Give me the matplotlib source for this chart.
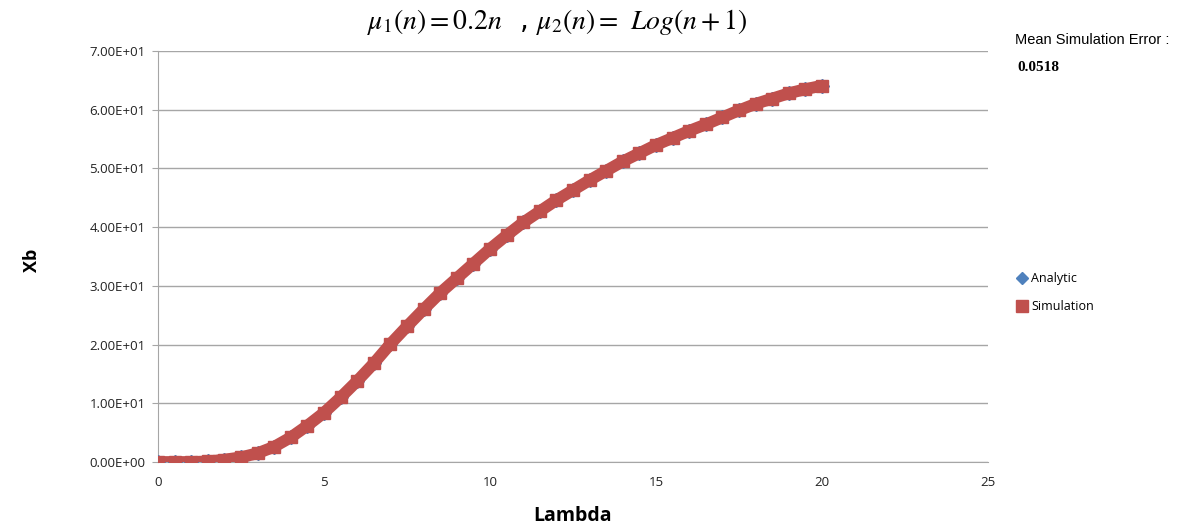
import matplotlib
matplotlib.use("Agg")
import matplotlib.pyplot as plt
from matplotlib.lines import Line2D

# Values
lam = [0, 0.5, 1, 1.5, 2, 2.5, 3, 3.5, 4, 4.5, 5, 5.5, 6, 6.5, 7, 7.5, 8, 8.5,
       9, 9.5, 10, 10.5, 11, 11.5, 12, 12.5, 13, 13.5, 14, 14.5, 15, 15.5, 16,
       16.5, 17, 17.5, 18, 18.5, 19, 19.5, 20]
simulation = [0.0, 0.0, 0.0, 0.1, 0.4, 0.8, 1.5, 2.6, 4.2, 6.2, 8.4, 11.0, 13.8,
              16.8, 20.1, 23.1, 26.0, 28.8, 31.3, 33.8, 36.3, 38.6, 40.8, 42.7,
              44.6, 46.3, 48.0, 49.6, 51.2, 52.6, 54.0, 55.2, 56.4, 57.5, 58.7,
              59.9, 61.0, 61.9, 62.8, 63.5, 64.1]
analytic = list(simulation)
y_ticks = [0, 10, 20, 30, 40, 50, 60, 70]
y_tick_labels = ["0.00E+00", "1.00E+01", "2.00E+01", "3.00E+01", "4.00E+01",
                 "5.00E+01", "6.00E+01", "7.00E+01"]
x_ticks = [0, 5, 10, 15, 20, 25]

BLUE = "#4F81BD"
RED = "#C0504D"

plt.rcParams["mathtext.fontset"] = "stix"

fig = plt.figure(figsize=(11.95, 5.27), dpi=100)
ax = fig.add_axes([0.1322, 0.1233, 0.8268 - 0.1322, 0.9032 - 0.1233])

ax.plot(lam, analytic, color=BLUE, marker="D", markersize=7, linewidth=6,
        zorder=3)
ax.plot(lam, simulation, color=RED, marker="s", markersize=8.5, linewidth=8.5,
        solid_capstyle="butt", zorder=4)

ax.set_xlim(0, 25)
ax.set_ylim(0, 70)
ax.set_xticks(x_ticks)
ax.set_yticks(y_ticks)
ax.set_yticklabels(y_tick_labels)
ax.yaxis.grid(True, color="#A6A6A6", linewidth=1)
ax.set_axisbelow(True)
for side in ["top", "right"]:
    ax.spines[side].set_visible(False)
ax.spines["left"].set_color("#A6A6A6")
ax.spines["bottom"].set_color("#A6A6A6")
ax.tick_params(axis="y", length=4, color="#A6A6A6", labelsize=9.5,
               labelcolor="#222222", pad=5)
ax.tick_params(axis="x", length=0, labelsize=9.5, labelcolor="#222222", pad=10)
for t in ax.get_xticklabels() + ax.get_yticklabels():
    t.set_family("Open Sans")

ax.set_xlabel("Lambda", fontsize=14, fontweight="bold", family="Open Sans",
              labelpad=12)
fig.text(0.027, 0.505, "Xb", rotation=90, fontsize=13, fontweight="bold",
         family="Open Sans", ha="center", va="center")

fig.text(0.466, 0.958, r"$\mu_1(n) = 0.2n$  , $\mu_2(n) =$ $Log(n+1)$",
         fontsize=20, ha="center", va="center")

fig.text(0.849, 0.924, "Mean Simulation Error :", fontsize=10.5,
         family="Liberation Sans", ha="left", va="center")
fig.text(0.851, 0.871, "0.0518", fontsize=11, family="Liberation Serif",
         fontweight="bold", ha="left", va="center")

handles = [Line2D([], [], color=BLUE, marker="D", markersize=6, linestyle="none"),
           Line2D([], [], color=RED, marker="s", markersize=8, linestyle="none")]
fig.legend(handles, ["Analytic", "Simulation"], loc="upper left",
           bbox_to_anchor=(0.842, 0.505), frameon=False,
           prop={"family": "Open Sans", "size": 9}, handlelength=0.8,
           handletextpad=0.3, labelspacing=1.2)

fig.savefig("out.png", dpi=100)
